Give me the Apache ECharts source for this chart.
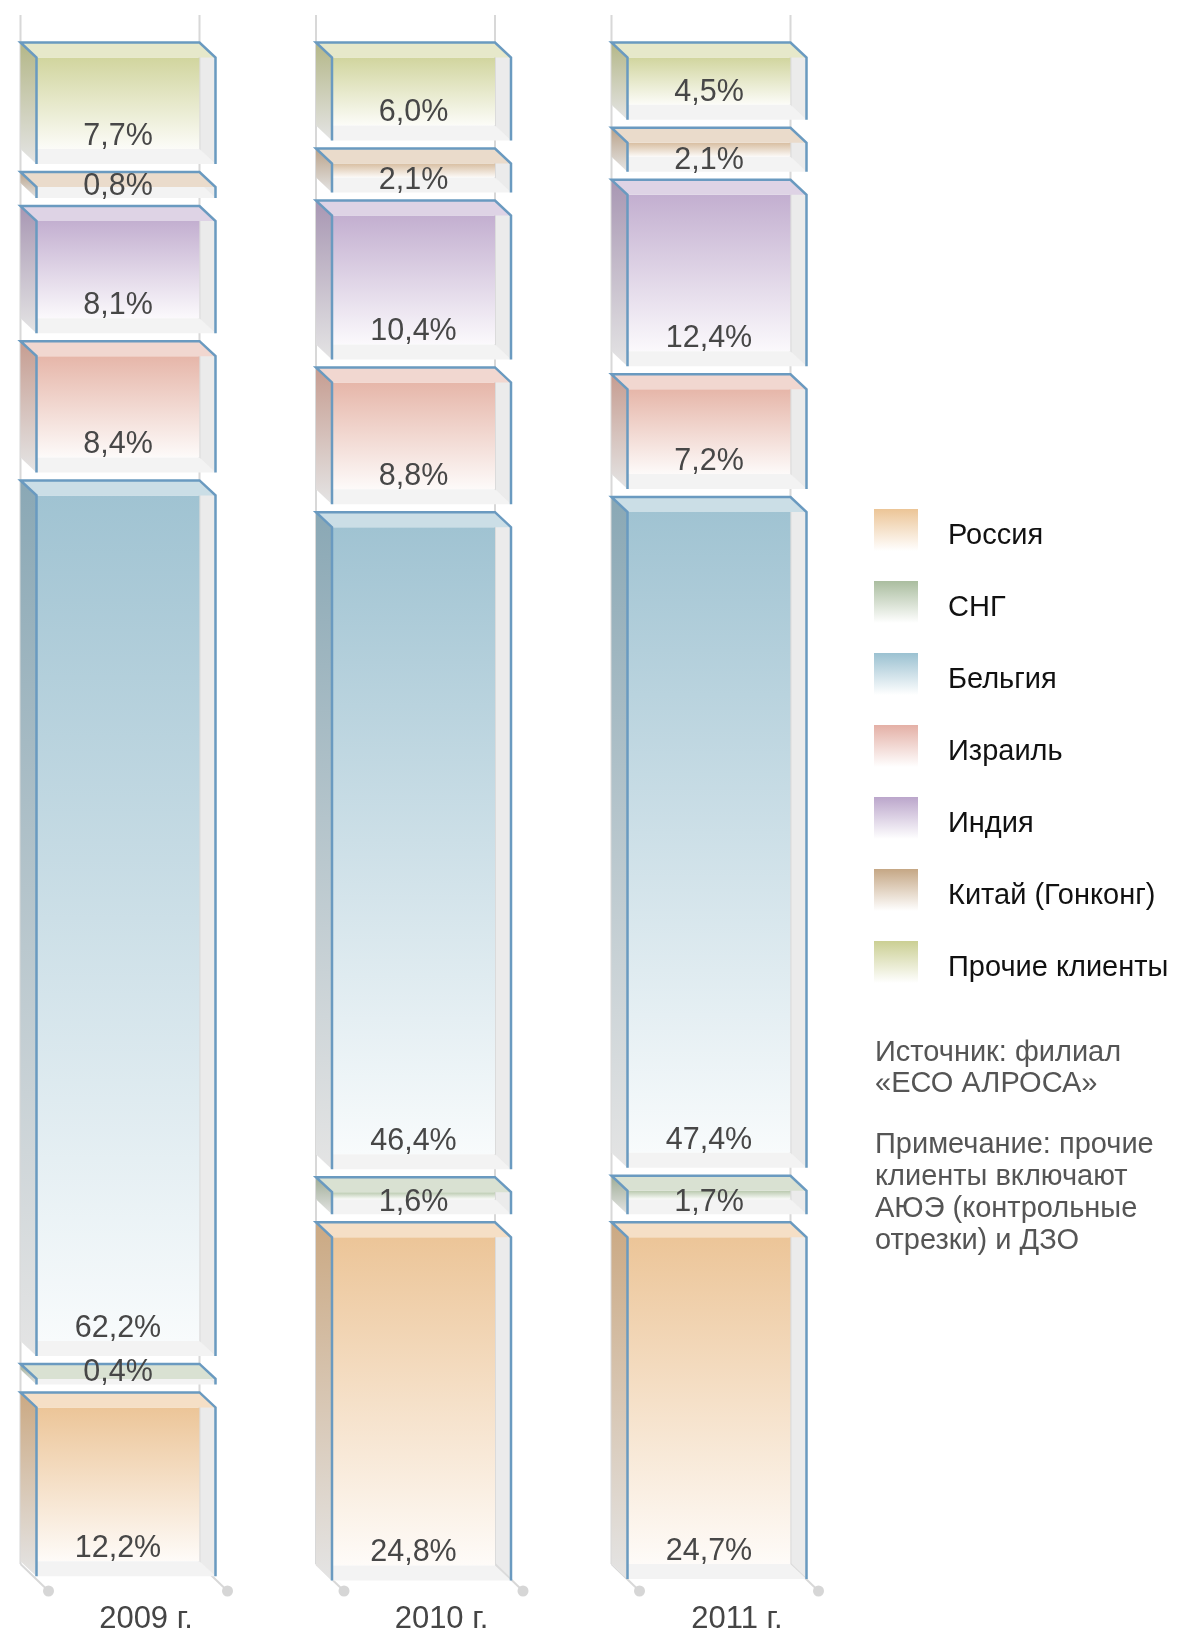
<!DOCTYPE html>
<html>
<head>
<meta charset="utf-8">
<script src="https://cdn.jsdelivr.net/npm/echarts@6/dist/echarts.min.js"></script>
<style>
html,body{margin:0;padding:0;background:#fff;}
#chart{width:1178px;height:1635px;}
</style>
</head>
<body>
<div id="chart"></div>
<script>
// ---- data ----
const years = ['2009 г.', '2010 г.', '2011 г.'];
const russia  = [12.2, 24.8, 24.7];
const cis     = [0.4, 1.6, 1.7];
const belgium = [62.2, 46.4, 47.4];
const israel  = [8.4, 8.8, 7.2];
const india   = [8.1, 10.4, 12.4];
const china   = [0.8, 2.1, 2.1];
const others  = [7.7, 6.0, 4.5];
const names = ['Россия', 'СНГ', 'Бельгия', 'Израиль', 'Индия', 'Китай (Гонконг)', 'Прочие клиенты'];
const sourceNote = 'Источник: филиал\n«ЕСО АЛРОСА»';
const remarkNote = 'Примечание: прочие\nклиенты включают\nАЮЭ (контрольные\nотрезки) и ДЗО';

// ---- style ----
const stack = [russia, cis, belgium, israel, india, china, others]; // bottom -> top
const barColors = ['#ecc598', '#b9c9ae', '#a0c3d2', '#e6b6a9', '#c3afd0', '#d8bea1', '#d1d59e'];
const legendColors = ['#ecc597', '#aabd9f', '#9bc1d1', '#e4b0a6', '#bba6cb', '#c5a785', '#cbcf93'];
const FONT = '"Liberation Sans", Arial, Helvetica, sans-serif';
const HALF = 89.5, DX = 16, DY = 15, GAP = 23;
const OUTLINE = '#6a9ac0';

function hex2rgb(h){h=h.replace('#','');return [0,2,4].map(i=>parseInt(h.substr(i,2),16));}
function mix(a,b,t){const x=hex2rgb(a),y=hex2rgb(b);return 'rgb('+x.map((v,i)=>Math.round(v+(y[i]-v)*t)).join(',')+')';}
const LG = (c1,c2)=> new echarts.graphic.LinearGradient(0,0,0,1,[{offset:0,color:c1},{offset:1,color:c2}]);

function segRender(s){
  return function(params, api){
    const yi = api.value(0), v = api.value(1);
    let cumAbove = 0;
    for (let j = s + 1; j < stack.length; j++) cumAbove += stack[j][yi];
    const t = stack.length - 1 - s;
    const c = api.coord([yi, 100 - cumAbove]);
    const cx = c[0];
    const T = c[1] + t * GAP;
    const h = api.size([0, v])[1];
    const B = T + h, F = B + DY;
    const xl = cx - HALF, xr = cx + HALF, fl = xl + DX, fr = xr + DX;
    const main = barColors[s];
    const ch = [];
    if (B > T + DY) {
      ch.push({type:'rect', shape:{x:fl, y:T+DY, width:xr-fl, height:B-(T+DY)},
        style:{fill: LG(main, mix(main,'#ffffff',0.93))}});
    }
    ch.push({type:'polygon', shape:{points:[[xl,B],[xr,B],[fr,F],[fl,F]]}, style:{fill:'#f3f3f3'}});
    ch.push({type:'polygon', shape:{points:[[xl,T],[fl,T+DY],[fl,F],[xl,B]]},
      style:{fill: LG(mix(main,'#000000',0.14), '#e4e4e4')}});
    ch.push({type:'polygon', shape:{points:[[xr,T],[fr,T+DY],[fr,F],[xr,B]]}, style:{fill:'rgba(222,222,222,0.6)'}});
    ch.push({type:'polygon', shape:{points:[[xl,T],[xr,T],[fr,T+DY],[fl,T+DY]]}, style:{fill: mix(main,'#ffffff',0.45)}});
    ch.push({type:'polyline', shape:{points:[[fl,F],[fl,T+DY],[xl,T],[xr,T],[fr,T+DY],[fr,F]]},
      style:{stroke:OUTLINE, lineWidth:2.5, fill:null, lineJoin:'miter'}});
    const baseline = h < 45 ? F - 1 : B - 2;
    ch.push({type:'text', z2:10, style:{text: String(v.toFixed(1)).replace('.', ',') + '%',
      x:(fl+xr)/2, y: baseline - 10.5, align:'center', verticalAlign:'middle',
      font: '30.5px ' + FONT, fill:'#474747'}});
    return {type:'group', children: ch};
  };
}

function frameRender(params, api){
  const i = api.value(0);
  const top = api.coord([i, 100]);
  const bot = api.coord([i, 0]);
  const cx = top[0];
  const y0 = top[1] - 27.5;
  const yb = bot[1] + (stack.length - 1) * GAP;
  const xl = cx - HALF, xr = cx + HALF, fl = xl + DX, fr = xr + DX;
  const st = {stroke:'#d8d8d8', lineWidth:2};
  return {type:'group', children:[
    {type:'line', shape:{x1:xl,y1:y0,x2:xl,y2:yb}, style:st},
    {type:'line', shape:{x1:xr,y1:y0,x2:xr,y2:yb}, style:st},
    {type:'line', shape:{x1:xl,y1:yb,x2:fl+12,y2:yb+DY+12}, style:st},
    {type:'line', shape:{x1:xr,y1:yb,x2:fr+12,y2:yb+DY+12}, style:st},
    {type:'circle', shape:{cx:fl+12, cy:yb+DY+12, r:5.5}, style:{fill:'#d6d6d6'}},
    {type:'circle', shape:{cx:fr+12, cy:yb+DY+12, r:5.5}, style:{fill:'#d6d6d6'}}
  ]};
}

const series = [{
  type:'custom', name:'frame', z:1, silent:true,
  data: years.map((y,i)=>[i]), renderItem: frameRender
}];
stack.forEach((arr, s)=>{
  series.push({
    type:'custom', name:names[s], z:2,
    itemStyle:{color: LG(legendColors[s], '#ffffff')},
    data: years.map((y,i)=>[i, arr[i]]),
    renderItem: segRender(s)
  });
});

const chart = echarts.init(document.getElementById('chart'), null, {renderer:'canvas'});
chart.setOption({
  animation:false,
  backgroundColor:'#ffffff',
  grid:{left:110, right:477, top:42.5, height:1386.5},
  xAxis:{type:'category', data:years, boundaryGap:false,
    axisLine:{show:false}, axisTick:{show:false}, splitLine:{show:false},
    axisLabel:{margin:178, fontSize:31, color:'#454545', fontFamily:FONT, padding:[0,0,0,72]}},
  yAxis:{type:'value', min:0, max:100, show:false},
  legend:{orient:'vertical', left:874, top:509, padding:0, itemWidth:44, itemHeight:42, itemGap:30,
    icon:'rect', selectedMode:false, data:names.slice(),
    formatter: '{n|{name}}',
    textStyle:{fontSize:29, color:'#111', fontFamily:FONT,
      rich:{n:{fontSize:29, color:'#111', fontFamily:FONT, lineHeight:29, padding:[12,0,0,25]}}}},
  title:[
    {text:sourceNote, left:875, top:1037, padding:0, textStyle:{fontSize:29, fontWeight:'normal', color:'#555', lineHeight:31.5, fontFamily:FONT}},
    {text:remarkNote, left:875, top:1129, padding:0, textStyle:{fontSize:29, fontWeight:'normal', color:'#555', lineHeight:32, fontFamily:FONT}}
  ],
  series: series
});
</script>
</body>
</html>
